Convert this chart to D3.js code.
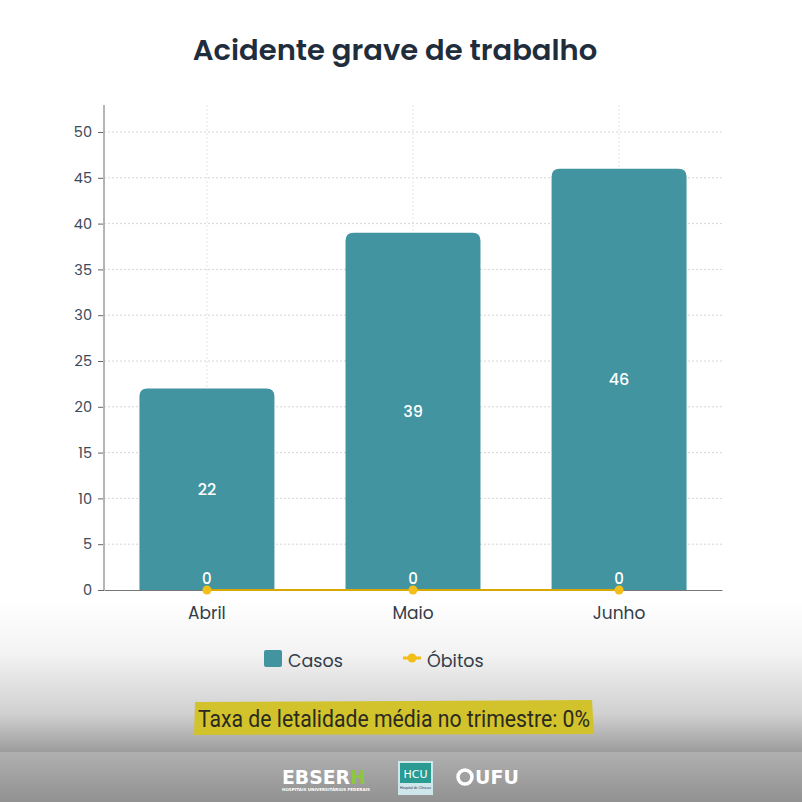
<!DOCTYPE html>
<html lang="pt-BR">
<head>
<meta charset="utf-8" />
<script src="https://cdn.jsdelivr.net/npm/d3@7"></script>
<style>
  body { margin: 0; background: #fff; }
  svg { display: block; }
</style>
</head>
<body>
<div id="chart"></div>
<script>
  var categories = ["Abril", "Maio", "Junho"];
  var casos = [22, 39, 46];
  var obitos = [0, 0, 0];
  var yTicks = [0, 5, 10, 15, 20, 25, 30, 35, 40, 45, 50];

  var width = 802, height = 802;
  var margin = { top: 105, right: 80, bottom: 212, left: 104 };
  var innerW = width - margin.left - margin.right;
  var innerH = height - margin.top - margin.bottom;
  var font = "Poppins, 'Open Sans', sans-serif";

  var svg = d3.select("#chart").append("svg")
    .attr("width", width).attr("height", height);

  // background gradient + footer band
  var defs = svg.append("defs");
  var grad = defs.append("linearGradient").attr("id", "bg")
    .attr("gradientUnits", "userSpaceOnUse")
    .attr("x1", 0).attr("y1", 600).attr("x2", 0).attr("y2", 752);
  grad.append("stop").attr("offset", "0%").attr("stop-color", "#ffffff");
  grad.append("stop").attr("offset", "35%").attr("stop-color", "#f3f3f3");
  grad.append("stop").attr("offset", "75%").attr("stop-color", "#d0d0d0");
  grad.append("stop").attr("offset", "100%").attr("stop-color", "#9c9c9c");
  svg.append("rect").attr("width", width).attr("height", 752).attr("fill", "url(#bg)");
  var fgrad = defs.append("linearGradient").attr("id", "foot")
    .attr("x1", 0).attr("y1", 0).attr("x2", 0).attr("y2", 1);
  fgrad.append("stop").attr("offset", "0%").attr("stop-color", "#b0b0b0");
  fgrad.append("stop").attr("offset", "100%").attr("stop-color", "#919191");
  svg.append("rect").attr("y", 752).attr("width", width).attr("height", 50).attr("fill", "url(#foot)");

  svg.append("text")
    .attr("x", 395).attr("y", 60)
    .attr("text-anchor", "middle")
    .attr("font-family", font).attr("font-weight", 600)
    .attr("font-size", 29).attr("fill", "#1f2d3d")
    .text("Acidente grave de trabalho");

  var g = svg.append("g").attr("transform", "translate(" + margin.left + "," + margin.top + ")");

  var x = d3.scaleBand().domain(categories).range([0, innerW]).paddingInner(0.345).paddingOuter(0.172);
  var y = d3.scaleLinear().domain([0, 50]).range([innerH, innerH - 458]);

  // grid
  g.append("g").selectAll("line").data(yTicks.slice(1)).enter().append("line")
    .attr("x1", 0).attr("x2", innerW)
    .attr("y1", function (d) { return y(d); }).attr("y2", function (d) { return y(d); })
    .attr("stroke", "#d6d6d6").attr("stroke-dasharray", "2,2");
  g.append("g").selectAll("line").data(categories).enter().append("line")
    .attr("x1", function (d) { return x(d) + x.bandwidth() / 2; })
    .attr("x2", function (d) { return x(d) + x.bandwidth() / 2; })
    .attr("y1", 0).attr("y2", innerH)
    .attr("stroke", "#e6e6e6").attr("stroke-dasharray", "2,2");

  // bars with rounded top
  var r = 8;
  g.selectAll(".bar").data(casos).enter().append("path")
    .attr("class", "bar")
    .attr("fill", "#4294a0")
    .attr("d", function (d, i) {
      var x0 = x(categories[i]), w = x.bandwidth(), y0 = y(d), y1 = y(0);
      return "M" + x0 + "," + y1 + "V" + (y0 + r) + "Q" + x0 + "," + y0 + " " + (x0 + r) + "," + y0 +
        "H" + (x0 + w - r) + "Q" + (x0 + w) + "," + y0 + " " + (x0 + w) + "," + (y0 + r) + "V" + y1 + "Z";
    });

  g.selectAll(".blabel").data(casos).enter().append("text")
    .attr("x", function (d, i) { return x(categories[i]) + x.bandwidth() / 2; })
    .attr("y", function (d) { return (y(d) + y(0)) / 2 + 6; })
    .attr("text-anchor", "middle").attr("font-family", font).attr("font-weight", 500)
    .attr("font-size", 16).attr("fill", "#ffffff")
    .text(function (d) { return d; });

  // axes
  var yAxis = g.append("g").call(d3.axisLeft(y).tickValues(yTicks).tickSize(6).tickPadding(6));
  yAxis.select(".domain").remove();
  yAxis.selectAll(".tick line").attr("stroke", "#666");
  yAxis.selectAll("text").attr("font-family", font).attr("font-size", 14.5).attr("fill", "#3d4a5c");
  g.append("line").attr("x1", 0).attr("x2", 0).attr("y1", 0).attr("y2", innerH)
    .attr("stroke", "#b5b5b5").attr("stroke-width", 2);

  var xAxis = g.append("g").attr("transform", "translate(0," + innerH + ")")
    .call(d3.axisBottom(x).tickSize(0).tickPadding(17));
  xAxis.select(".domain").attr("stroke", "#777");
  xAxis.selectAll("text").attr("font-family", font).attr("font-size", 17).attr("fill", "#333d4a");

  // obitos line
  var line = d3.line()
    .x(function (d, i) { return x(categories[i]) + x.bandwidth() / 2; })
    .y(function (d) { return y(d); });
  g.append("path").datum(obitos).attr("d", line)
    .attr("fill", "none").attr("stroke", "#d8a800").attr("stroke-width", 2);
  g.selectAll(".pt").data(obitos).enter().append("circle")
    .attr("cx", function (d, i) { return x(categories[i]) + x.bandwidth() / 2; })
    .attr("cy", function (d) { return y(d); })
    .attr("r", 4.5).attr("fill", "#f2be1a");
  g.selectAll(".olabel").data(obitos).enter().append("text")
    .attr("x", function (d, i) { return x(categories[i]) + x.bandwidth() / 2; })
    .attr("y", function (d) { return y(d) - 6; })
    .attr("text-anchor", "middle").attr("font-family", font).attr("font-weight", 500)
    .attr("font-size", 15).attr("fill", "#ffffff")
    .text(function (d) { return d; });

  // legend
  var lg = svg.append("g");
  lg.append("rect").attr("x", 264).attr("y", 650).attr("width", 18).attr("height", 17).attr("rx", 2).attr("fill", "#4294a0");
  lg.append("text").attr("x", 288).attr("y", 667).attr("font-family", font).attr("font-size", 17.5).attr("fill", "#333d4a").text("Casos");
  lg.append("line").attr("x1", 403).attr("x2", 421).attr("y1", 658).attr("y2", 658).attr("stroke", "#f2be1a").attr("stroke-width", 3);
  lg.append("circle").attr("cx", 412).attr("cy", 658).attr("r", 4.5).attr("fill", "#f2be1a");
  lg.append("text").attr("x", 427).attr("y", 667).attr("font-family", font).attr("font-size", 17.5).attr("fill", "#333d4a").text("Óbitos");

  // highlighted note
  svg.append("path").attr("d", "M195,702 L592,700 L594,734 L194,735 Z").attr("fill", "#d2c22c");
  svg.append("text").attr("x", 198).attr("y", 727)
    .attr("font-family", "Roboto, sans-serif").attr("font-size", 23).attr("fill", "#2a2a20")
    .attr("textLength", 392).attr("lengthAdjust", "spacingAndGlyphs")
    .text("Taxa de letalidade média no trimestre: 0%");

  // footer logos
  var fg = svg.append("g");
  fg.append("text").attr("x", 282).attr("y", 784).attr("font-family", "'DejaVu Sans', sans-serif")
    .attr("font-weight", 700).attr("font-size", 19).attr("fill", "#ffffff")
    .attr("textLength", 68).attr("lengthAdjust", "spacingAndGlyphs").text("EBSER");
  fg.append("text").attr("x", 350).attr("y", 784).attr("font-family", "'DejaVu Sans', sans-serif")
    .attr("font-weight", 700).attr("font-size", 19).attr("fill", "#8dc63f").text("H");
  fg.append("text").attr("x", 282).attr("y", 791).attr("font-family", "'DejaVu Sans', sans-serif")
    .attr("font-weight", 700).attr("font-size", 4).attr("fill", "#ffffff")
    .attr("textLength", 88).attr("lengthAdjust", "spacingAndGlyphs").text("HOSPITAIS UNIVERSITÁRIOS FEDERAIS");
  fg.append("rect").attr("x", 398).attr("y", 761).attr("width", 35).attr("height", 34).attr("fill", "#cfe6ea");
  fg.append("rect").attr("x", 400).attr("y", 763).attr("width", 31).attr("height", 20).attr("fill", "#2a9a92");
  fg.append("text").attr("x", 415.5).attr("y", 778).attr("text-anchor", "middle").attr("font-family", "'DejaVu Sans', sans-serif")
    .attr("font-size", 11).attr("fill", "#ffffff").text("HCU");
  fg.append("text").attr("x", 415.5).attr("y", 789).attr("text-anchor", "middle").attr("font-family", "sans-serif")
    .attr("font-size", 3.5).attr("fill", "#335").text("Hospital de Clínicas");
  fg.append("text").attr("x", 475).attr("y", 784).attr("font-family", "'DejaVu Sans', sans-serif")
    .attr("font-weight", 700).attr("font-size", 19).attr("fill", "#ffffff").text("UFU");
  fg.append("circle").attr("cx", 465).attr("cy", 777).attr("r", 7).attr("fill", "none").attr("stroke", "#ffffff").attr("stroke-width", 3.5);
</script>
</body>
</html>
